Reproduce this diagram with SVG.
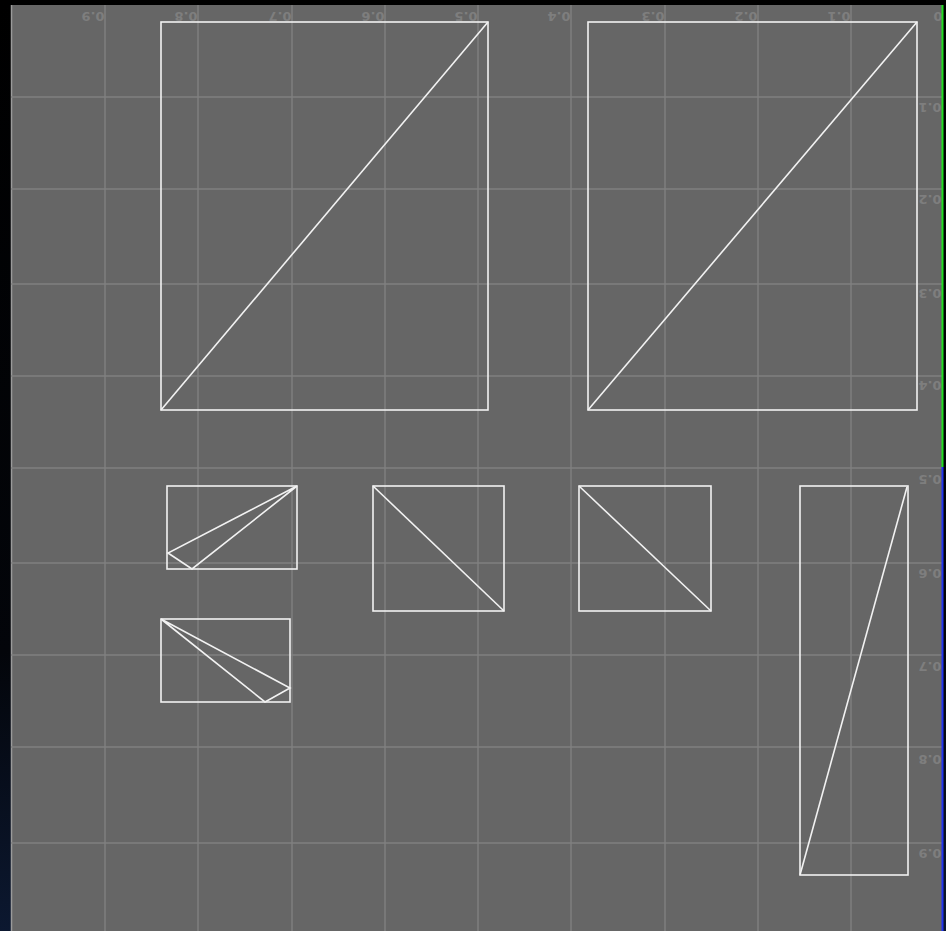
<svg xmlns="http://www.w3.org/2000/svg" width="946" height="931" viewBox="0 0 946 931">
<defs>
<linearGradient id="bg" x1="0" y1="0" x2="0" y2="1">
<stop offset="0" stop-color="#000000"/>
<stop offset="0.7" stop-color="#03050a"/>
<stop offset="1" stop-color="#0c1830"/>
</linearGradient>
</defs>
<style>
.grid{stroke:#808080;stroke-width:1.4;fill:none}
.lbl{font-family:"DejaVu Sans","Liberation Sans",sans-serif;font-size:13px;font-weight:bold;fill:#7e7e7e;text-anchor:middle;dominant-baseline:central}
.uv{stroke:#f2f2f2;stroke-width:1.6;fill:none;stroke-linejoin:miter}
</style>
<rect x="0" y="0" width="946" height="931" fill="url(#bg)"/>
<rect x="11" y="5" width="932" height="926" fill="#666666"/>
<line x1="11.5" y1="5" x2="11.5" y2="931" stroke="#9a9a9a" stroke-width="1.5"/>
<g id="grid" class="grid">
<line x1="105" y1="5" x2="105" y2="931"/>
<line x1="198" y1="5" x2="198" y2="931"/>
<line x1="292" y1="5" x2="292" y2="931"/>
<line x1="385" y1="5" x2="385" y2="931"/>
<line x1="478" y1="5" x2="478" y2="931"/>
<line x1="571" y1="5" x2="571" y2="931"/>
<line x1="665" y1="5" x2="665" y2="931"/>
<line x1="758" y1="5" x2="758" y2="931"/>
<line x1="851" y1="5" x2="851" y2="931"/>
<line x1="11" y1="97" x2="942" y2="97"/>
<line x1="11" y1="189" x2="942" y2="189"/>
<line x1="11" y1="284" x2="942" y2="284"/>
<line x1="11" y1="376" x2="942" y2="376"/>
<line x1="11" y1="468" x2="942" y2="468"/>
<line x1="11" y1="563" x2="942" y2="563"/>
<line x1="11" y1="655" x2="942" y2="655"/>
<line x1="11" y1="747" x2="942" y2="747"/>
<line x1="11" y1="843" x2="942" y2="843"/>
</g>
<g id="labels-top">
<text class="lbl" transform="rotate(180 93 16)" x="93" y="16">0.9</text>
<text class="lbl" transform="rotate(180 186 16)" x="186" y="16">0.8</text>
<text class="lbl" transform="rotate(180 280 16)" x="280" y="16">0.7</text>
<text class="lbl" transform="rotate(180 373 16)" x="373" y="16">0.6</text>
<text class="lbl" transform="rotate(180 466 16)" x="466" y="16">0.5</text>
<text class="lbl" transform="rotate(180 559 16)" x="559" y="16">0.4</text>
<text class="lbl" transform="rotate(180 653 16)" x="653" y="16">0.3</text>
<text class="lbl" transform="rotate(180 746 16)" x="746" y="16">0.2</text>
<text class="lbl" transform="rotate(180 839 16)" x="839" y="16">0.1</text>
<text class="lbl" transform="rotate(180 938 16)" x="938" y="16">0</text>
</g>
<g id="labels-right">
<text class="lbl" transform="rotate(180 930 107)" x="930" y="107">0.1</text>
<text class="lbl" transform="rotate(180 930 199)" x="930" y="199">0.2</text>
<text class="lbl" transform="rotate(180 930 293)" x="930" y="293">0.3</text>
<text class="lbl" transform="rotate(180 930 385)" x="930" y="385">0.4</text>
<text class="lbl" transform="rotate(180 930 479)" x="930" y="479">0.5</text>
<text class="lbl" transform="rotate(180 930 573)" x="930" y="573">0.6</text>
<text class="lbl" transform="rotate(180 930 666)" x="930" y="666">0.7</text>
<text class="lbl" transform="rotate(180 930 759)" x="930" y="759">0.8</text>
<text class="lbl" transform="rotate(180 930 853)" x="930" y="853">0.9</text>
</g>
<line x1="942.5" y1="5" x2="942.5" y2="467" stroke="#22dd22" stroke-width="2"/>
<line x1="942.5" y1="467" x2="942.5" y2="931" stroke="#2233ee" stroke-width="2"/>
<g id="island-big-left" class="uv">
<rect x="161" y="22" width="327" height="388"/>
<line x1="161" y1="410" x2="488" y2="22"/>
</g>
<g id="island-big-right" class="uv">
<rect x="588" y="22" width="329" height="388"/>
<line x1="588" y1="410" x2="917" y2="22"/>
</g>
<g id="island-small-1" class="uv">
<rect x="167" y="486" width="130" height="83"/>
<polyline points="297,486 168,553 192,569 297,486"/>
</g>
<g id="island-small-2" class="uv">
<rect x="161" y="619" width="129" height="83"/>
<polyline points="161,619 290,688 265,702 161,619"/>
</g>
<g id="island-square-1" class="uv">
<rect x="373" y="486" width="131" height="125"/>
<line x1="373" y1="486" x2="504" y2="611"/>
</g>
<g id="island-square-2" class="uv">
<rect x="579" y="486" width="132" height="125"/>
<line x1="579" y1="486" x2="711" y2="611"/>
</g>
<g id="island-tall" class="uv">
<rect x="800" y="486" width="108" height="389"/>
<line x1="907" y1="487" x2="800" y2="875"/>
</g>
</svg>
